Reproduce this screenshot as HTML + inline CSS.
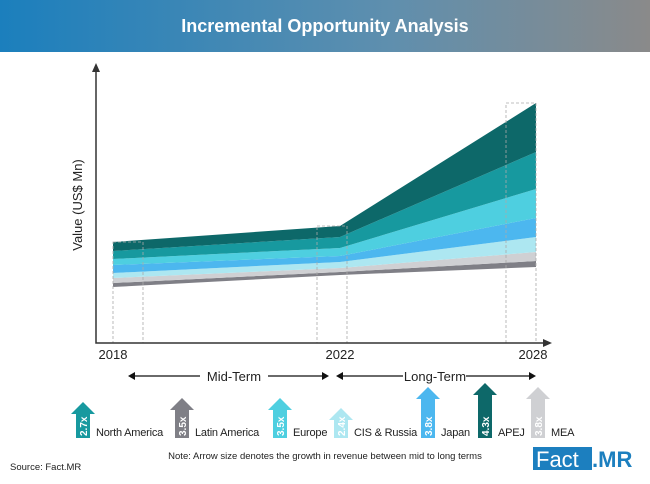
<!DOCTYPE html>
<html><head><meta charset="utf-8"><style>
body{margin:0;width:650px;height:484px;overflow:hidden;background:#fff;font-family:"Liberation Sans",sans-serif}
#hdr{position:absolute;left:0;top:0;width:650px;height:52px;background:linear-gradient(90deg,#1b7fbd,#5f8fae 60%,#8a8a8a)}
#hdr div{color:#fff;font-weight:bold;font-size:18px;text-align:center;line-height:52px}
</style></head><body>
<div id="hdr"><div>Incremental Opportunity Analysis</div></div>
<svg id="ch" width="650" height="484" style="position:absolute;left:0;top:0"></svg>
<script>
const years=["2018","2022","2028"];
const baseline=[56,68,76];
const seriesNames=["Latin America","MEA","CIS & Russia","Japan","Europe","North America","APEJ"];
const sLatAm=[4,3,6];
const sMEA=[5,4,9];
const sCIS=[5,6,15];
const sJapan=[8,6,19];
const sEurope=[6,8,29];
const sNA=[8,11,37];
const sAPEJ=[9,11,49];
const colors=["#7f7f86","#cfd0d3","#ade7f1","#4cb7ef","#4ecfe0","#17999f","#0d6869"];
const growth=["2.7x","3.5x","3.5x","2.4x","3.8x","4.3x","3.8x"];
const legendNames=["North America","Latin America","Europe","CIS & Russia","Japan","APEJ","MEA"];
const legendColors=["#17999f","#7f7f86","#4ecfe0","#ade7f1","#4cb7ef","#0d6869","#cfd0d3"];

const NS="http://www.w3.org/2000/svg",svg=document.getElementById('ch');
function mk(t,a,p){const e=document.createElementNS(NS,t);for(const k in a)e.setAttribute(k,a[k]);(p||svg).appendChild(e);return e;}
const xPos={"2018":113,"2022":340,"2028":536};
function X(i){return xPos[years[i]];}
function Y(v){return 343-v;}
const series=[sLatAm,sMEA,sCIS,sJapan,sEurope,sNA,sAPEJ];
let cum=baseline.slice();
series.forEach((s,k)=>{
  const lo=cum.slice(),hi=cum.map((c,i)=>c+s[i]);
  let d="M"+years.map((_,i)=>X(i)+","+Y(hi[i])).join(" L")+" L"+years.map((_,i)=>X(2-i)+","+Y(lo[2-i])).join(" L")+"Z";
  const p=mk('path',{d:d,fill:colors[k]});
  
  
  cum=hi;
});
const total=cum;
[[0,0],[1,-23],[2,-30]].forEach(([i,dx])=>{
  const r=mk('rect',{x:X(i)+dx,y:Y(total[i]),width:30,height:343-Y(total[i]),fill:'none',stroke:'#aaa','stroke-width':0.8,'stroke-dasharray':'3,2'});
  
  
});
mk('path',{d:'M96,66 L96,343 L548,343',fill:'none',stroke:'#333','stroke-width':1.5,});
mk('path',{d:'M92,72 L96,63 L100,72Z M543,339 L552,343 L543,347Z',fill:'#333',});
const yl=mk('text',{x:82,y:205,transform:'rotate(-90 82 205)','text-anchor':'middle','font-size':13,fill:'#222',});yl.textContent='Value (US$ Mn)';
years.forEach((y,i)=>{const t=mk('text',{x:X(i)-(i==2?3:0),y:359,'text-anchor':'middle','font-size':13,fill:'#222'});t.textContent=y;});
mk('path',{d:'M130,376 L200,376 M268,376 L327,376 M339,376 L403,376 M466,376 L534,376',stroke:'#111','stroke-width':1.2,});
mk('path',{d:'M128,376 L135,372 L135,380Z M329,376 L322,372 L322,380Z M336,376 L343,372 L343,380Z M536,376 L529,372 L529,380Z',fill:'#111'});
let t=mk('text',{x:234,y:381,'text-anchor':'middle','font-size':13,fill:'#222',});t.textContent='Mid-Term';
t=mk('text',{x:435,y:381,'text-anchor':'middle','font-size':13,fill:'#222',});t.textContent='Long-Term';
const lx=[83,182,280,341,428,485,538];
const ltop=[402,398,398,408,387,383,387];
legendNames.forEach((n,i)=>{
  const g=mk('g',{});
  
  
  const cx=lx[i],top=ltop[i],bot=438;
  mk('path',{d:`M${cx-12},${top+12} L${cx},${top} L${cx+12},${top+12} L${cx+7},${top+12} L${cx+7},${bot} L${cx-7},${bot} L${cx-7},${top+12}Z`,fill:legendColors[i]},g);
  const tt=mk('text',{x:cx+4,y:bot-2,transform:`rotate(-90 ${cx+4} ${bot-2})`,'font-size':10,'font-weight':'bold',fill:'#fff'},g);tt.textContent=growth[i];
  const lb=mk('text',{x:cx+13,y:436,'font-size':11,'letter-spacing':'-0.2',fill:'#222'},g);lb.textContent=n;
});
t=mk('text',{x:325,y:459,'text-anchor':'middle','font-size':9.5,fill:'#222',});t.textContent='Note: Arrow size denotes the growth in revenue between mid to long terms';
t=mk('text',{x:10,y:470,'font-size':9.5,fill:'#222',});t.textContent='Source: Fact.MR';
mk('rect',{x:533,y:447,width:59,height:23,fill:'#1c7fbf',});
t=mk('text',{x:536,y:467,'font-size':22,fill:'#fff',});t.textContent='Fact';
t=mk('text',{x:592,y:467,'font-size':22,'font-weight':'bold',fill:'#1c7fbf',});t.textContent='.MR';
</script>
</body></html>
